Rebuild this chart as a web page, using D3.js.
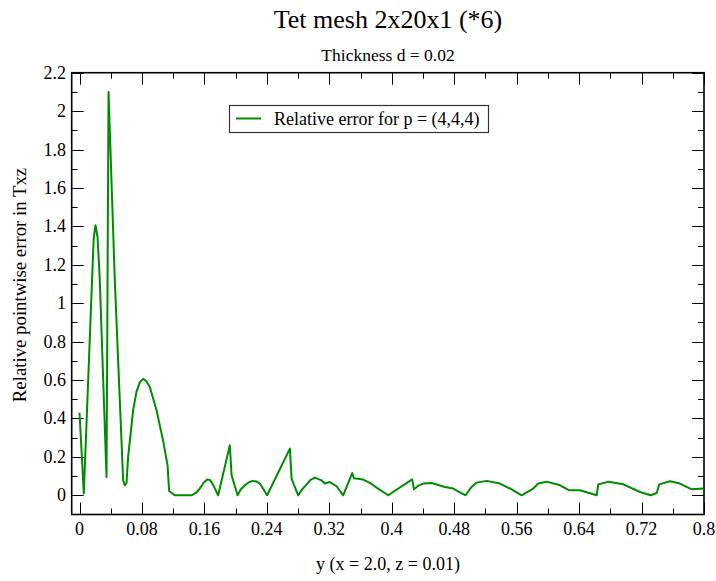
<!DOCTYPE html>
<html>
<head>
<meta charset="utf-8">
<script src="https://cdn.jsdelivr.net/npm/d3@7"></script>
<style>
  html, body { margin: 0; padding: 0; background: #fff; }
  svg text { font-family: "Liberation Serif", "Times New Roman", serif; fill: #000; }
</style>
</head>
<body>
<svg id="chart" width="716" height="581"></svg>
<script>
// ---- data ----
const titleText = "Tet mesh 2x20x1 (*6)";
const subtitleText = "Thickness d = 0.02";
const xLabel = "y (x = 2.0, z = 0.01)";
const yLabel = "Relative pointwise error in Txz";
const seriesName = "Relative error for p = (4,4,4)";

const xTicks = [0, 0.08, 0.16, 0.24, 0.32, 0.4, 0.48, 0.56, 0.64, 0.72, 0.8];
const xTickLabels = ["0", "0.08", "0.16", "0.24", "0.32", "0.4", "0.48", "0.56", "0.64", "0.72", "0.8"];
const yTicks = [0, 0.2, 0.4, 0.6, 0.8, 1, 1.2, 1.4, 1.6, 1.8, 2, 2.2];
const yTickLabels = ["0", "0.2", "0.4", "0.6", "0.8", "1", "1.2", "1.4", "1.6", "1.8", "2", "2.2"];

const yPos = [
  0.0, 0.0055, 0.0174, 0.0183, 0.0205, 0.0231, 0.026, 0.0346, 0.0372, 0.0452, 0.0559, 0.058, 0.0602,
  0.0623, 0.0687, 0.073, 0.0775, 0.0815, 0.0855, 0.0901, 0.0987, 0.107, 0.1128, 0.1148, 0.122,
  0.1435, 0.149, 0.154, 0.159, 0.1635, 0.167, 0.1704, 0.1776, 0.1926, 0.1948, 0.2025,
  0.2065, 0.2118, 0.2165, 0.2217, 0.2265, 0.231, 0.2404, 0.2695, 0.2717, 0.2801,
  0.2855, 0.2909, 0.296, 0.3015, 0.3101, 0.3143, 0.3207, 0.3293, 0.3378,
  0.3493, 0.3515, 0.3634, 0.372, 0.3806, 0.3954, 0.4262, 0.4284, 0.434, 0.4403, 0.4511,
  0.4681, 0.4787, 0.4946, 0.5015, 0.5087, 0.5215, 0.5386, 0.5525, 0.5664, 0.5812, 0.5877,
  0.5984, 0.6157, 0.6274, 0.6411, 0.6625, 0.6645, 0.6778, 0.6965, 0.7181, 0.7317,
  0.7394, 0.7427, 0.7564, 0.7692, 0.7843, 0.7991
];
const relErr = [
  0.43, 0.009, 1.26, 1.345, 1.406, 1.345, 1.12, 0.095, 2.10, 1.12, 0.078, 0.052, 0.064,
  0.20, 0.443, 0.54, 0.59, 0.606, 0.595, 0.564, 0.443, 0.286, 0.156, 0.022, 0.0,
  0.0, 0.012, 0.035, 0.065, 0.082, 0.08, 0.061, 0.0, 0.26, 0.104, 0.0,
  0.03, 0.052, 0.067, 0.075, 0.072, 0.061, 0.0, 0.243, 0.087, 0.0,
  0.032, 0.057, 0.08, 0.092, 0.078, 0.061, 0.069, 0.047, 0.0,
  0.116, 0.089, 0.082, 0.065, 0.040, 0.0, 0.083, 0.031, 0.05, 0.061, 0.064,
  0.043, 0.035, 0.0, 0.04, 0.066, 0.075, 0.061, 0.033, 0.0, 0.035, 0.061,
  0.071, 0.052, 0.026, 0.026, 0.0, 0.056, 0.071, 0.057, 0.017, 0.0,
  0.012, 0.057, 0.073, 0.061, 0.031, 0.035
];

// ---- layout ----
const svg = d3.select("#chart");
const pLeft = 71.7, pRight = 704, pTop = 72.7, pBottom = 514.5;

const x = d3.scaleLinear().domain([-0.01, 0.8]).range([pLeft, pRight]);
const y = d3.scaleLinear().domain([-0.1, 2.2]).range([pBottom, pTop]);

const xMinor = d3.range(0.04, 0.8, 0.08);
const yMinor = d3.range(0.1, 2.2, 0.2);

const majorLen = 12, minorLen = 6;
const gAx = svg.append("g").attr("stroke", "#000").attr("stroke-width", 1).attr("fill", "none");

// x ticks (bottom, pointing up; top, pointing down)
xTicks.forEach(v => {
  const px = Math.round(x(v)) + 0.5;
  gAx.append("line").attr("x1", px).attr("x2", px).attr("y1", pBottom).attr("y2", pBottom - majorLen);
  gAx.append("line").attr("x1", px).attr("x2", px).attr("y1", pTop).attr("y2", pTop + majorLen);
});
xMinor.forEach(v => {
  const px = Math.round(x(v)) + 0.5;
  gAx.append("line").attr("x1", px).attr("x2", px).attr("y1", pBottom).attr("y2", pBottom - minorLen);
  gAx.append("line").attr("x1", px).attr("x2", px).attr("y1", pTop).attr("y2", pTop + minorLen);
});
// y ticks (left pointing right; right pointing left)
yTicks.forEach(v => {
  const py = Math.round(y(v)) + 0.5;
  gAx.append("line").attr("x1", pLeft).attr("x2", pLeft + majorLen).attr("y1", py).attr("y2", py);
  gAx.append("line").attr("x1", pRight).attr("x2", pRight - majorLen).attr("y1", py).attr("y2", py);
});
yMinor.forEach(v => {
  const py = Math.round(y(v)) + 0.5;
  gAx.append("line").attr("x1", pLeft).attr("x2", pLeft + minorLen).attr("y1", py).attr("y2", py);
  gAx.append("line").attr("x1", pRight).attr("x2", pRight - minorLen).attr("y1", py).attr("y2", py);
});

// frame
svg.append("rect")
  .attr("x", pLeft).attr("y", pTop)
  .attr("width", pRight - pLeft).attr("height", pBottom - pTop)
  .attr("fill", "none").attr("stroke", "#000").attr("stroke-width", 1.6);

// tick labels
svg.append("g").selectAll("text").data(xTicks).join("text")
  .attr("x", d => x(d)).attr("y", 534.5)
  .attr("text-anchor", "middle").attr("font-size", 18)
  .text((d, i) => xTickLabels[i]);

svg.append("g").selectAll("text").data(yTicks).join("text")
  .attr("x", 66).attr("y", d => y(d) + 6)
  .attr("text-anchor", "end").attr("font-size", 18)
  .text((d, i) => yTickLabels[i]);

// series
const pts = yPos.map((v, i) => [v, relErr[i]]);
const line = d3.line().x(d => x(d[0])).y(d => y(d[1]));
svg.append("path")
  .datum(pts)
  .attr("d", line)
  .attr("fill", "none")
  .attr("stroke", "#008c00")
  .attr("stroke-width", 2)
  .attr("stroke-linejoin", "round");

// titles
svg.append("text").attr("x", 388).attr("y", 28)
  .attr("text-anchor", "middle").attr("font-size", 26).text(titleText);
svg.append("text").attr("x", 388).attr("y", 61)
  .attr("text-anchor", "middle").attr("font-size", 17.5).text(subtitleText);
svg.append("text").attr("x", 388).attr("y", 570)
  .attr("text-anchor", "middle").attr("font-size", 18).text(xLabel);
svg.append("text")
  .attr("transform", "translate(26,285) rotate(-90)")
  .attr("text-anchor", "middle").attr("font-size", 18.8).text(yLabel);

// legend
const lg = svg.append("g");
lg.append("rect").attr("x", 229.5).attr("y", 105.5).attr("width", 259).attr("height", 27)
  .attr("fill", "#fff").attr("stroke", "#333").attr("stroke-width", 1.2);
lg.append("line").attr("x1", 236).attr("x2", 261).attr("y1", 118.5).attr("y2", 118.5)
  .attr("stroke", "#008c00").attr("stroke-width", 2);
lg.append("text").attr("x", 274).attr("y", 124.5).attr("font-size", 18).text(seriesName);
</script>
</body>
</html>
